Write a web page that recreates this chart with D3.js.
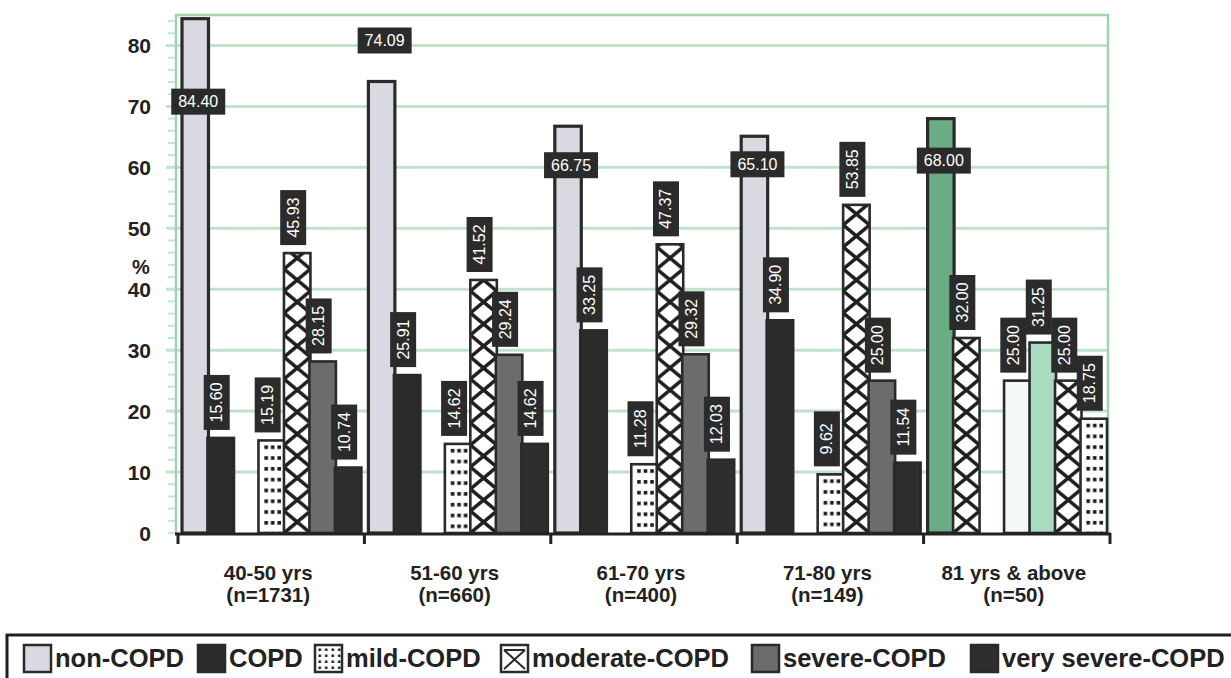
<!DOCTYPE html>
<html><head><meta charset="utf-8">
<script src="https://cdn.jsdelivr.net/npm/d3@7"></script>
<style>
html,body{margin:0;padding:0;background:#fff;}
svg{display:block;font-family:"Liberation Sans",Arial,sans-serif;}
</style></head>
<body>
<svg id="chart" width="1231" height="678"></svg>
<script>
// ---------- DATA ----------
const groups = ["40-50 yrs","51-60 yrs","61-70 yrs","71-80 yrs","81 yrs & above"];
const groupN = ["(n=1731)","(n=660)","(n=400)","(n=149)","(n=50)"];
const series = ["non-COPD","COPD","mild-COPD","moderate-COPD","severe-COPD","very severe-COPD"];
const nonCOPD    = [84.40,74.09,66.75,65.10,68.00];
const COPD       = [15.60,25.91,33.25,34.90,32.00];
const mildCOPD   = [15.19,14.62,11.28, 9.62,25.00];
const moderateCOPD=[45.93,41.52,47.37,53.85,31.25];
const severeCOPD = [28.15,29.24,29.32,25.00,25.00];
const verySevereCOPD=[10.74,14.62,12.03,11.54,18.75];
const yTicks = [0,10,20,30,40,50,60,70,80];

// ---------- STYLE / LAYOUT ----------
const seriesValues = [nonCOPD,COPD,mildCOPD,moderateCOPD,severeCOPD,verySevereCOPD];
const slots = ["non-COPD","COPD","_gap","mild-COPD","moderate-COPD","severe-COPD","very severe-COPD"];
const seriesStyle = {
  "non-COPD":{type:"solid",fill:"#d9d9e2"},
  "COPD":{type:"solid",fill:"#2b2b2b"},
  "mild-COPD":{type:"dots"},
  "moderate-COPD":{type:"cross"},
  "severe-COPD":{type:"solid",fill:"#6c6c6c"},
  "very severe-COPD":{type:"solid",fill:"#2e2e2e"}
};
// the last group is printed with different fills in the source
const groupOverride = {
  "81 yrs & above":[{type:"solid",fill:"#6aad84"},{type:"cross"},{type:"solid",fill:"#f3f9f6"},{type:"solid",fill:"#a8dbc0"},{type:"cross"},{type:"dots"}]
};
const nonCopdLabelShift = [83,-41,39,28,42]; // px offset of horizontal label centre from bar top
const legendTextX = [55,229,346,532,783,1002];

const svg = d3.select("#chart");
const defs = svg.append("defs");
const plot = {left:176, right:1108, top:15, bottom:533};

const y = d3.scaleLinear().domain([0,85]).range([plot.bottom, plot.top]);
const x0 = d3.scaleBand().domain(groups).range([178,1110]).padding(0);
const x1 = d3.scaleBand().domain(slots).range([4, x0.bandwidth()-4]).padding(0);

// grid lines
const grid = svg.append("g");
grid.selectAll("line.g").data(yTicks.filter(d=>d>0)).join("line")
  .attr("x1",166).attr("x2",plot.right).attr("y1",d=>y(d)).attr("y2",d=>y(d))
  .attr("stroke","#bfe4cb").attr("stroke-width",3);
// minor ticks on left border
grid.selectAll("line.m").data(d3.range(0,85,2)).join("line")
  .attr("x1",168).attr("x2",plot.left).attr("y1",d=>y(d)).attr("y2",d=>y(d))
  .attr("stroke","#c4e6cf").attr("stroke-width",2);
// plot border (green)
svg.append("path")
  .attr("d",`M${plot.left},${plot.bottom} V${plot.top} H${plot.right} V${plot.bottom}`)
  .attr("fill","none").attr("stroke","#9ed3ad").attr("stroke-width",2.5);

// build bar data
const bars=[];
groups.forEach((g,gi)=>{
  series.forEach((s,si)=>{
    const st = groupOverride[g] ? groupOverride[g][si] : seriesStyle[s];
    bars.push({g,gi,s,si,v:seriesValues[si][gi],st});
  });
});
bars.forEach((b,i)=>{
  b.x = x0(b.g)+x1(b.s); b.w = x1.bandwidth()+1; b.y=y(b.v); b.h=plot.bottom-b.y; b.id="pat"+i;
});

// patterns
bars.filter(b=>b.st.type==="cross").forEach(b=>{
  const ph=22;
  const p=defs.append("pattern").attr("id",b.id).attr("patternUnits","userSpaceOnUse")
    .attr("x",b.x).attr("y",plot.bottom).attr("width",b.w).attr("height",ph);
  p.append("rect").attr("width",b.w).attr("height",ph).attr("fill","#fff");
  p.append("path").attr("d",`M-2,${-ph*2/b.w} L${b.w+2},${ph+ph*2/b.w} M${b.w+2},${-ph*2/b.w} L-2,${ph+ph*2/b.w}`)
    .attr("stroke","#1f1f1f").attr("stroke-width",3.6).attr("fill","none");
});
bars.filter(b=>b.st.type==="dots").forEach(b=>{
  const ph=10.8, pw=b.w;
  const p=defs.append("pattern").attr("id",b.id).attr("patternUnits","userSpaceOnUse")
    .attr("x",b.x).attr("y",b.y+2).attr("width",pw).attr("height",ph);
  p.append("rect").attr("width",pw).attr("height",ph).attr("fill","#fff");
  [-5.5,1,7.5].forEach(dx=>{
    p.append("rect").attr("x",pw/2+dx-1.8).attr("y",3).attr("width",3.6).attr("height",3.6).attr("fill","#1a1a1a");
  });
});

// bars
svg.append("g").selectAll("rect").data(bars).join("rect")
  .attr("x",d=>d.x).attr("y",d=>d.y).attr("width",d=>d.w).attr("height",d=>d.h)
  .attr("fill",d=>d.st.type==="solid"?d.st.fill:`url(#${d.id})`)
  .attr("stroke","#2a2a2a").attr("stroke-width",d=>d.si===0?3.2:2.6);

// x axis
svg.append("line").attr("x1",plot.left-1).attr("x2",1111).attr("y1",plot.bottom+1).attr("y2",plot.bottom+1)
  .attr("stroke","#222").attr("stroke-width",3);
const xt = groups.map(g=>x0(g)).concat([x0.range()[1]]);
svg.append("g").selectAll("line").data(xt).join("line")
  .attr("x1",d=>d).attr("x2",d=>d).attr("y1",plot.bottom).attr("y2",plot.bottom+11)
  .attr("stroke","#222").attr("stroke-width",3);

// y labels
svg.append("g").selectAll("text").data(yTicks).join("text")
  .attr("x",151).attr("y",d=>y(d)+7.5).attr("text-anchor","end")
  .attr("font-size",21).attr("font-weight","bold").attr("fill","#222").text(d=>d);
svg.append("text").attr("x",141).attr("y",274).attr("text-anchor","middle")
  .attr("font-size",20).attr("font-weight","bold").attr("fill","#222").text("%");

// group labels
const gl = svg.append("g").selectAll("g").data(groups).join("g")
  .attr("transform",g=>`translate(${x0(g)+x0.bandwidth()/2-3},0)`);
gl.append("text").attr("y",580).attr("text-anchor","middle").attr("font-size",20.5)
  .attr("font-weight","bold").attr("fill","#222").text(d=>d);
gl.append("text").attr("y",602).attr("text-anchor","middle").attr("font-size",20.5)
  .attr("font-weight","bold").attr("fill","#222").text((d,i)=>groupN[i]);

// data labels
const lab = svg.append("g");
bars.forEach(b=>{
  const txt = d3.format(".2f")(b.v);
  if(b.si===0){
    const cx=b.x+b.w/2+3, cy=b.y+nonCopdLabelShift[b.gi];
    lab.append("rect").attr("x",cx-27).attr("y",cy-13).attr("width",54).attr("height",26).attr("fill","#2b2b2b");
    lab.append("text").attr("x",cx).attr("y",cy+5.5).attr("text-anchor","middle")
      .attr("font-size",16).attr("fill","#fff").text(txt);
  } else {
    const cx=b.x+b.w/2-4, bottom=b.y-8, bh=55, bw=26;
    lab.append("rect").attr("x",cx-bw/2).attr("y",bottom-bh).attr("width",bw).attr("height",bh).attr("fill","#2b2b2b");
    lab.append("text").attr("transform",`translate(${cx+5.5},${bottom-bh/2}) rotate(-90)`)
      .attr("text-anchor","middle").attr("font-size",16).attr("fill","#fff").text(txt);
  }
});

// legend
svg.append("rect").attr("x",7).attr("y",635).attr("width",1240).attr("height",60)
  .attr("fill","#fff").attr("stroke","#1e1e1e").attr("stroke-width",3);
series.forEach((s,i)=>{
  const st=seriesStyle[s], tx=legendTextX[i];
  const sx = tx-31, sy=645, sw=27, sh=27;
  if(st.type==="dots"){
    const p=defs.append("pattern").attr("id","legdots").attr("patternUnits","userSpaceOnUse")
      .attr("x",sx+2).attr("y",sy+2).attr("width",6.5).attr("height",6);
    p.append("rect").attr("width",6.5).attr("height",6).attr("fill","#fff");
    p.append("rect").attr("x",1.5).attr("y",1.5).attr("width",2.5).attr("height",2.5).attr("fill","#1a1a1a");
    svg.append("rect").attr("x",sx).attr("y",sy).attr("width",sw).attr("height",sh)
      .attr("fill","url(#legdots)").attr("stroke","#2a2a2a").attr("stroke-width",2.5);
  } else if(st.type==="cross"){
    svg.append("rect").attr("x",sx).attr("y",sy).attr("width",sw).attr("height",sh)
      .attr("fill","#fff").attr("stroke","#2a2a2a").attr("stroke-width",2.5);
    svg.append("path").attr("d",`M${sx+3},${sy+5} L${sx+sw-3},${sy+sh-3} M${sx+sw-3},${sy+5} L${sx+3},${sy+sh-3} M${sx+3},${sy+5} H${sx+sw-3}`)
      .attr("stroke","#2a2a2a").attr("stroke-width",2).attr("fill","none");
  } else {
    svg.append("rect").attr("x",sx).attr("y",sy).attr("width",sw).attr("height",sh)
      .attr("fill",st.fill).attr("stroke","#2a2a2a").attr("stroke-width",2.5);
  }
  svg.append("text").attr("x",tx).attr("y",667).attr("font-size",25.5).attr("font-weight","bold")
    .attr("fill","#222").text(s);
});
</script>
</body></html>
